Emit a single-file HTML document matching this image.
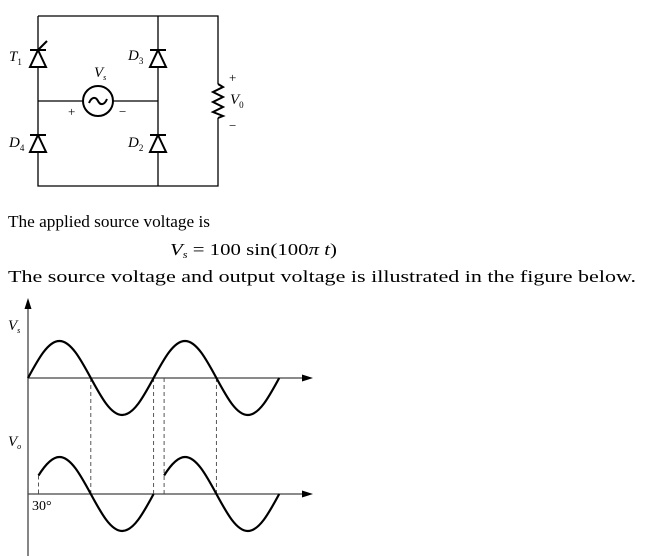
<!DOCTYPE html>
<html><head><meta charset="utf-8"><style>
html,body{margin:0;padding:0;background:#fff;}
svg{display:block;}
text{font-family:"Liberation Serif",serif;fill:#000;}
</style></head><body>
<svg width="655" height="556" viewBox="0 0 655 556" xmlns="http://www.w3.org/2000/svg">
<g stroke="#000" stroke-width="1.3" fill="none">
<path d="M38,16 H218 V84 M218,118 V186 H38 V16 M158,16 V186 M38,101 H83 M113,101 H158"/>
</g>
<g stroke="#000" stroke-width="2" fill="#fff">
<path d="M30,50 H46 M38,50 L46,67 H30 Z"/>
<path d="M150,50 H166 M158,50 L166,67 H150 Z"/>
<path d="M30,135 H46 M38,135 L46,152 H30 Z"/>
<path d="M150,135 H166 M158,135 L166,152 H150 Z"/>
<path d="M38,50 L47,41" fill="none"/>
<circle cx="98" cy="101" r="15"/>
<path d="M89,103 C92,96 96,97 98,101 C100,105 104,106 107,99" fill="none"/>
<path d="M218,84 L223,87 L213,92 L223,97 L213,102 L223,107 L213,112 L223,116 L218,118" fill="none"/>
</g>
<g font-style="italic" font-size="15">
<text x="9" y="61">T<tspan font-size="9" font-style="normal" dy="4">1</tspan></text>
<text x="128" y="60">D<tspan font-size="9" font-style="normal" dy="4">3</tspan></text>
<text x="9" y="147">D<tspan font-size="9" font-style="normal" dy="4">4</tspan></text>
<text x="128" y="147">D<tspan font-size="9" font-style="normal" dy="4">2</tspan></text>
<text x="94" y="77">V<tspan font-size="8" dy="3">s</tspan></text>
<text x="230" y="104">V<tspan font-size="9" font-style="normal" dy="4">0</tspan></text>
</g>
<g font-size="13">
<text x="68" y="116">+</text><text x="119" y="116">−</text>
<text x="229" y="82">+</text><text x="229" y="130">−</text>
</g>
<g font-size="17">
<text x="8" y="227" textLength="202" lengthAdjust="spacingAndGlyphs">The applied source voltage is</text>
<text x="170" y="255" textLength="167" lengthAdjust="spacingAndGlyphs"><tspan font-style="italic">V<tspan font-size="10" dy="3">s</tspan></tspan><tspan dy="-3"> = 100 sin(100</tspan><tspan font-style="italic">π t</tspan>)</text>
<text x="8" y="282" textLength="628" lengthAdjust="spacingAndGlyphs">The source voltage and output voltage is illustrated in the figure below.</text>
</g>
<g stroke="#444" stroke-width="1.3" fill="none">
<path d="M28,556 V306 M28,378 H305 M28,494 H305"/>
<path d="M38.5,475.5 V494 M90.8,378 V494 M153.6,378 V494 M164.1,378 V494 M216.4,378 V494" stroke-dasharray="4,3" stroke-width="0.9"/>
</g>
<g fill="#000">
<path d="M28,298 L24.5,309 L31.5,309 Z"/>
<path d="M313,378 L302,374.5 L302,381.5 Z"/>
<path d="M313,494 L302,490.5 L302,497.5 Z"/>
</g>
<g stroke="#000" stroke-width="2.2" fill="none">
<path d="M28,378 C38.25,359.05 48.05,341 59.4,341 C70.75,341 80.55,359.05 90.8,378 C101.05,396.95 110.85,415 122.2,415 C133.55,415 143.35,396.95 153.6,378 C163.85,359.05 173.65,341 185,341 C196.35,341 206.15,359.05 216.4,378 C226.65,396.95 236.45,415 247.8,415 C259.15,415 268.95,396.95 279.2,378"/>
<path d="M38.5,475.5 C45.5,464.3 52.4,457 59.4,457 C70.75,457 80.55,475.05 90.8,494 C101.05,512.95 110.85,531 122.2,531 C133.55,531 143.35,512.95 153.6,494"/>
<path d="M164.1,475.5 C171.1,464.3 178,457 185,457 C196.35,457 206.15,475.05 216.4,494 C226.65,512.95 236.45,531 247.8,531 C259.15,531 268.95,512.95 279.2,494"/>
</g>
<g font-style="italic" font-size="15">
<text x="8" y="330">V<tspan font-size="8" dy="3">s</tspan></text>
<text x="8" y="446">V<tspan font-size="8" dy="3">o</tspan></text>
</g>
<text x="32" y="510" font-size="14">30°</text>
</svg>
</body></html>
